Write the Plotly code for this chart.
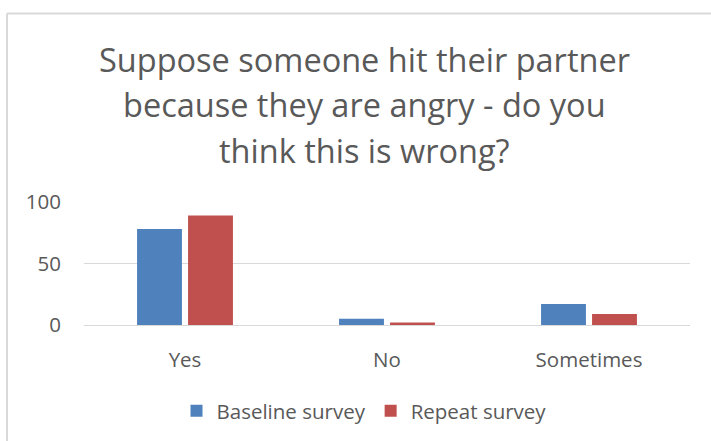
import plotly.graph_objects as go

categories = ["Yes", "No", "Sometimes"]
baseline = [78, 5, 17]
repeat = [89, 2, 9]
series_names = ["Baseline survey", "Repeat survey"]
title_lines = ["Suppose someone hit their partner",
               "because they are angry - do you",
               "think this is wrong?"]
y_ticks = [0, 50, 100]

W, H = 711, 441
L, R, T, B = 84, 21, 202, 115
pw, ph = W - L - R, H - T - B

def px2x(px):
    return (px - L) / pw

def py2y(py):
    return (H - B - py) / ph

FONT = "Open Sans"
GREY = "#595959"
FS = 20.5

fig = go.Figure()
fig.add_trace(go.Bar(x=categories, y=baseline, name=series_names[0],
                     marker=dict(color="#4F81BD", line=dict(width=0))))
fig.add_trace(go.Bar(x=categories, y=repeat, name=series_names[1],
                     marker=dict(color="#C0504D", line=dict(width=0))))

annotations = []
for i, (line, cy) in enumerate(zip(title_lines, [58, 104, 150])):
    annotations.append(dict(text=line, xref="paper", yref="paper",
                            x=px2x(364), y=py2y(cy), xanchor="center", yanchor="middle",
                            showarrow=False, font=dict(family=FONT, size=32.5, color=GREY)))

shapes = [
    dict(type="line", xref="paper", yref="paper", x0=px2x(7), x1=px2x(720),
         y0=py2y(12), y1=py2y(12), line=dict(color="#D9D9D9", width=2)),
    dict(type="line", xref="paper", yref="paper", x0=px2x(7), x1=px2x(7),
         y0=py2y(12), y1=py2y(460), line=dict(color="#D9D9D9", width=2)),
]

fig.update_layout(
    width=W, height=H,
    margin=dict(l=L, r=R, t=T, b=B, pad=0),
    paper_bgcolor="white", plot_bgcolor="white",
    barmode="group", bargap=0.495, bargroupgap=0.12,
    font=dict(family=FONT, color=GREY, size=FS),
    annotations=annotations, shapes=shapes,
    showlegend=True,
    legend=dict(orientation="h", xanchor="center", x=px2x(364), yanchor="middle", y=py2y(411),
                font=dict(family=FONT, size=FS, color=GREY), itemsizing="constant",
                bgcolor="rgba(0,0,0,0)", traceorder="normal", itemwidth=30),
    xaxis=dict(showgrid=False, showline=True, linecolor="#D9D9D9", linewidth=1,
               ticks="", tickfont=dict(family=FONT, size=FS, color=GREY),
               ticklabelstandoff=16, fixedrange=True),
    yaxis=dict(range=[0, 100], tickvals=y_ticks, showgrid=True, gridcolor="#D9D9D9",
               gridwidth=1, zeroline=False, showline=False, ticks="",
               tickfont=dict(family=FONT, size=FS, color=GREY),
               ticklabelstandoff=22, fixedrange=True),
)

fig.write_html("out.html")
